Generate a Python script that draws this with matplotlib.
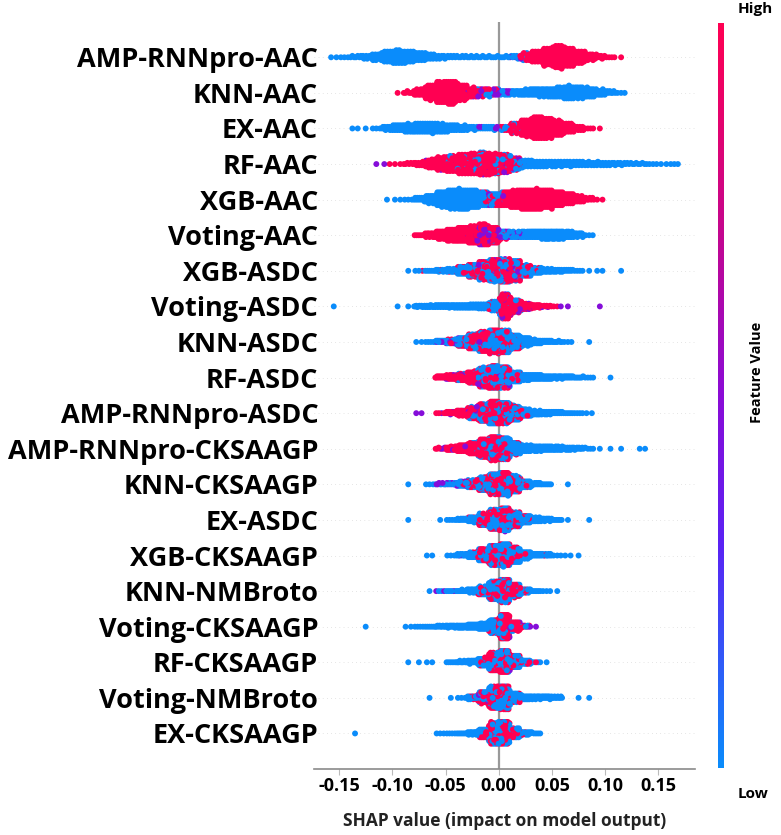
import numpy as np
import matplotlib
matplotlib.use("Agg")
import matplotlib.pyplot as plt
from matplotlib.colors import LinearSegmentedColormap, Normalize
from matplotlib.colorbar import ColorbarBase

plt.rcParams["font.family"] = ["Open Sans", "DejaVu Sans"]
plt.rcParams["axes.unicode_minus"] = False

# features, top to bottom
features = [
    "AMP-RNNpro-AAC", "KNN-AAC", "EX-AAC", "RF-AAC", "XGB-AAC", "Voting-AAC",
    "XGB-ASDC", "Voting-ASDC", "KNN-ASDC", "RF-ASDC", "AMP-RNNpro-ASDC",
    "AMP-RNNpro-CKSAAGP", "KNN-CKSAAGP", "EX-ASDC", "XGB-CKSAAGP",
    "KNN-NMBroto", "Voting-CKSAAGP", "RF-CKSAAGP", "Voting-NMBroto", "EX-CKSAAGP",
]

# SHAP value bins: 33 bins of width 0.01 starting at -0.16
bin_start = -0.16
bin_width = 0.01

# number of samples per bin with low feature value (blue)
low_counts = [
    [2, 3, 6, 10, 18, 30, 36, 30, 22, 15, 10, 7, 6, 6, 5, 5, 5, 6, 4, 0, 0, 0, 0, 0, 0, 0, 0, 0, 0, 0, 0, 0, 0],
    [0, 0, 0, 0, 0, 0, 0, 0, 0, 0, 0, 0, 0, 0, 3, 5, 8, 12, 16, 20, 22, 26, 34, 30, 24, 16, 8, 3, 0, 0, 0, 0, 0],
    [0, 0, 2, 1, 3, 12, 18, 22, 26, 27, 24, 18, 14, 10, 7, 6, 5, 3, 0, 0, 0, 0, 0, 0, 0, 0, 0, 0, 0, 0, 0, 0, 0],
    [0, 0, 0, 0, 0, 0, 0, 0, 0, 0, 0, 4, 6, 8, 10, 12, 12, 14, 18, 18, 17, 16, 15, 14, 12, 11, 10, 8, 6, 5, 3, 2, 3],
    [0, 0, 0, 0, 0, 1, 2, 3, 10, 22, 40, 52, 55, 50, 35, 18, 6, 0, 0, 0, 0, 0, 0, 0, 0, 0, 0, 0, 0, 0, 0, 0, 0],
    [0, 0, 0, 0, 0, 0, 0, 0, 0, 0, 0, 0, 0, 0, 0, 3, 8, 16, 22, 25, 28, 28, 22, 14, 3, 0, 0, 0, 0, 0, 0, 0, 0],
    [0, 0, 0, 0, 0, 0, 0, 1, 2, 5, 10, 16, 28, 36, 44, 48, 48, 44, 32, 24, 18, 14, 10, 4, 1, 2, 0, 1, 0, 0, 0, 0, 0],
    [1, 0, 0, 0, 0, 0, 1, 1, 10, 14, 16, 18, 20, 24, 28, 36, 20, 7, 2, 0, 0, 0, 0, 0, 0, 0, 0, 0, 0, 0, 0, 0, 0],
    [0, 0, 0, 0, 0, 0, 0, 0, 2, 4, 10, 14, 24, 36, 44, 56, 60, 48, 36, 20, 12, 7, 3, 0, 1, 0, 0, 0, 0, 0, 0, 0, 0],
    [0, 0, 0, 0, 0, 0, 0, 0, 0, 0, 0, 0, 3, 12, 28, 48, 52, 36, 28, 24, 18, 14, 12, 7, 4, 0, 1, 0, 0, 0, 0, 0, 0],
    [0, 0, 0, 0, 0, 0, 0, 0, 0, 0, 0, 0, 3, 12, 28, 40, 44, 40, 28, 20, 16, 12, 5, 4, 2, 0, 0, 0, 0, 0, 0, 0, 0],
    [0, 0, 0, 0, 0, 0, 0, 0, 0, 0, 0, 0, 0, 7, 24, 44, 52, 40, 28, 24, 20, 18, 14, 10, 4, 1, 1, 1, 0, 2, 0, 0, 0],
    [0, 0, 0, 0, 0, 0, 0, 1, 0, 3, 4, 6, 16, 24, 36, 44, 48, 36, 20, 12, 6, 0, 1, 0, 0, 0, 0, 0, 0, 0, 0, 0, 0],
    [0, 0, 0, 0, 0, 0, 0, 1, 0, 0, 1, 4, 10, 20, 32, 48, 52, 40, 28, 20, 14, 6, 1, 0, 1, 0, 0, 0, 0, 0, 0, 0, 0],
    [0, 0, 0, 0, 0, 0, 0, 0, 0, 2, 0, 3, 10, 20, 32, 48, 52, 40, 24, 14, 10, 3, 2, 1, 0, 0, 0, 0, 0, 0, 0, 0, 0],
    [0, 0, 0, 0, 0, 0, 0, 0, 0, 1, 2, 5, 10, 20, 32, 52, 52, 36, 14, 6, 3, 1, 0, 0, 0, 0, 0, 0, 0, 0, 0, 0, 0],
    [0, 0, 0, 1, 0, 0, 0, 2, 4, 5, 10, 14, 18, 24, 36, 60, 24, 7, 2, 0, 0, 0, 0, 0, 0, 0, 0, 0, 0, 0, 0, 0, 0],
    [0, 0, 0, 0, 0, 0, 0, 1, 1, 2, 0, 5, 10, 16, 28, 44, 48, 28, 14, 4, 1, 0, 0, 0, 0, 0, 0, 0, 0, 0, 0, 0, 0],
    [0, 0, 0, 0, 0, 0, 0, 0, 0, 1, 0, 1, 3, 12, 28, 52, 56, 32, 20, 16, 14, 10, 0, 1, 1, 0, 0, 0, 0, 0, 0, 0, 0],
    [0, 0, 1, 0, 0, 0, 0, 0, 0, 0, 3, 4, 6, 14, 28, 48, 48, 24, 12, 5, 0, 0, 0, 0, 0, 0, 0, 0, 0, 0, 0, 0, 0],
]

# samples with intermediate feature value (purple)
mid_counts = [
    [0, 0, 0, 0, 0, 0, 0, 0, 0, 0, 0, 0, 0, 0, 0, 0, 0, 2, 3, 0, 0, 0, 0, 0, 0, 0, 0, 0, 0, 0, 0, 0, 0],
    [0, 0, 0, 0, 0, 0, 0, 0, 0, 0, 0, 0, 0, 4, 8, 8, 5, 0, 0, 0, 0, 0, 0, 0, 0, 0, 0, 0, 0, 0, 0, 0, 0],
    [0, 0, 0, 0, 0, 0, 0, 0, 0, 0, 0, 0, 0, 0, 2, 3, 0, 0, 0, 0, 0, 0, 0, 0, 0, 0, 0, 0, 0, 0, 0, 0, 0],
    [0, 0, 0, 0, 1, 1, 0, 0, 0, 2, 3, 0, 3, 0, 4, 0, 4, 4, 0, 0, 0, 0, 0, 0, 0, 0, 0, 0, 0, 0, 0, 0, 0],
    [0, 0, 0, 0, 0, 0, 0, 0, 0, 0, 0, 0, 0, 0, 0, 4, 3, 0, 0, 0, 0, 0, 0, 0, 0, 0, 0, 0, 0, 0, 0, 0, 0],
    [0, 0, 0, 0, 0, 0, 0, 0, 0, 0, 0, 0, 0, 6, 20, 15, 10, 4, 0, 0, 0, 0, 0, 0, 0, 0, 0, 0, 0, 0, 0, 0, 0],
    [0, 0, 0, 0, 0, 0, 0, 0, 0, 0, 0, 0, 0, 0, 5, 7, 10, 7, 0, 0, 0, 0, 0, 0, 0, 0, 0, 0, 0, 0, 0, 0, 0],
    [0, 0, 0, 0, 0, 0, 0, 0, 0, 0, 0, 0, 0, 0, 0, 0, 7, 7, 5, 2, 2, 1, 1, 0, 0, 1, 0, 0, 0, 0, 0, 0, 0],
    [0, 0, 0, 0, 0, 0, 0, 0, 0, 0, 3, 5, 7, 7, 7, 0, 0, 0, 0, 0, 0, 0, 0, 0, 0, 0, 0, 0, 0, 0, 0, 0, 0],
    [0, 0, 0, 0, 0, 0, 0, 0, 0, 0, 0, 3, 3, 0, 5, 0, 5, 0, 0, 0, 0, 0, 0, 0, 0, 0, 0, 0, 0, 0, 0, 0, 0],
    [0, 0, 0, 0, 0, 0, 0, 0, 2, 0, 1, 2, 0, 5, 0, 5, 0, 0, 0, 0, 0, 0, 0, 0, 0, 0, 0, 0, 0, 0, 0, 0, 0],
    [0, 0, 0, 0, 0, 0, 0, 0, 0, 0, 2, 2, 2, 0, 0, 0, 0, 0, 0, 0, 0, 0, 0, 0, 0, 0, 0, 0, 0, 0, 0, 0, 0],
    [0, 0, 0, 0, 0, 0, 0, 0, 0, 0, 5, 6, 5, 0, 0, 0, 0, 0, 0, 0, 0, 0, 0, 0, 0, 0, 0, 0, 0, 0, 0, 0, 0],
    [0, 0, 0, 0, 0, 0, 0, 0, 0, 0, 0, 0, 0, 0, 3, 0, 3, 0, 0, 0, 0, 0, 0, 0, 0, 0, 0, 0, 0, 0, 0, 0, 0],
    [0, 0, 0, 0, 0, 0, 0, 0, 0, 0, 0, 0, 1, 0, 3, 0, 0, 0, 0, 0, 0, 0, 0, 0, 0, 0, 0, 0, 0, 0, 0, 0, 0],
    [0, 0, 0, 0, 0, 0, 0, 0, 0, 0, 2, 1, 0, 0, 0, 0, 0, 0, 0, 0, 0, 0, 0, 0, 0, 0, 0, 0, 0, 0, 0, 0, 0],
    [0, 0, 0, 0, 0, 0, 0, 0, 0, 0, 0, 0, 0, 0, 0, 0, 0, 5, 3, 1, 0, 0, 0, 0, 0, 0, 0, 0, 0, 0, 0, 0, 0],
    [0, 0, 0, 0, 0, 0, 0, 0, 0, 0, 0, 0, 0, 0, 0, 0, 0, 1, 0, 0, 0, 0, 0, 0, 0, 0, 0, 0, 0, 0, 0, 0, 0],
    [0, 0, 0, 0, 0, 0, 0, 0, 0, 0, 0, 0, 0, 0, 3, 0, 0, 0, 0, 0, 0, 0, 0, 0, 0, 0, 0, 0, 0, 0, 0, 0, 0],
    [0, 0, 0, 0, 0, 0, 0, 0, 0, 0, 0, 0, 0, 0, 0, 3, 0, 0, 0, 0, 0, 0, 0, 0, 0, 0, 0, 0, 0, 0, 0, 0, 0],
]

# samples with high feature value (red)
high_counts = [
    [0, 0, 0, 0, 0, 0, 0, 0, 0, 0, 0, 0, 0, 0, 0, 0, 0, 0, 14, 30, 45, 60, 48, 33, 18, 9, 4, 1, 0, 0, 0, 0, 0],
    [0, 0, 0, 0, 0, 0, 1, 6, 18, 38, 55, 60, 40, 20, 10, 5, 0, 0, 0, 0, 0, 0, 0, 0, 0, 0, 0, 0, 0, 0, 0, 0, 0],
    [0, 0, 0, 0, 0, 0, 0, 0, 0, 0, 0, 0, 0, 0, 0, 0, 8, 25, 45, 60, 55, 40, 25, 12, 4, 1, 0, 0, 0, 0, 0, 0, 0],
    [0, 0, 0, 0, 0, 1, 2, 6, 12, 25, 38, 45, 50, 55, 55, 50, 40, 20, 3, 0, 0, 0, 0, 0, 0, 0, 0, 0, 0, 0, 0, 0, 0],
    [0, 0, 0, 0, 0, 0, 0, 0, 0, 0, 0, 0, 0, 0, 4, 12, 30, 48, 55, 55, 50, 40, 30, 18, 8, 2, 0, 0, 0, 0, 0, 0, 0],
    [0, 0, 0, 0, 0, 0, 0, 0, 5, 15, 28, 40, 48, 50, 50, 35, 8, 0, 0, 0, 0, 0, 0, 0, 0, 0, 0, 0, 0, 0, 0, 0, 0],
    [0, 0, 0, 0, 0, 0, 0, 0, 1, 0, 2, 3, 12, 28, 44, 56, 60, 52, 24, 5, 0, 0, 0, 0, 0, 0, 0, 0, 0, 0, 0, 0, 0],
    [0, 0, 0, 0, 0, 0, 0, 0, 0, 0, 0, 0, 0, 0, 0, 20, 120, 60, 30, 16, 7, 2, 0, 0, 0, 0, 0, 0, 0, 0, 0, 0, 0],
    [0, 0, 0, 0, 0, 0, 0, 0, 0, 0, 0, 3, 12, 28, 44, 56, 48, 20, 3, 0, 0, 0, 0, 0, 0, 0, 0, 0, 0, 0, 0, 0, 0],
    [0, 0, 0, 0, 0, 0, 0, 0, 0, 0, 12, 20, 28, 44, 60, 60, 44, 12, 0, 0, 0, 0, 0, 0, 0, 0, 0, 0, 0, 0, 0, 0, 0],
    [0, 0, 0, 0, 0, 0, 0, 0, 0, 0, 3, 12, 24, 40, 56, 64, 56, 28, 7, 0, 0, 0, 0, 0, 0, 0, 0, 0, 0, 0, 0, 0, 0],
    [0, 0, 0, 0, 0, 0, 0, 0, 0, 0, 5, 16, 28, 44, 56, 60, 44, 12, 0, 0, 0, 0, 0, 0, 0, 0, 0, 0, 0, 0, 0, 0, 0],
    [0, 0, 0, 0, 0, 0, 0, 0, 0, 0, 0, 0, 3, 12, 28, 52, 60, 40, 12, 0, 0, 0, 0, 0, 0, 0, 0, 0, 0, 0, 0, 0, 0],
    [0, 0, 0, 0, 0, 0, 0, 0, 0, 0, 0, 0, 0, 5, 20, 44, 52, 28, 7, 0, 0, 0, 0, 0, 0, 0, 0, 0, 0, 0, 0, 0, 0],
    [0, 0, 0, 0, 0, 0, 0, 0, 0, 0, 0, 0, 0, 5, 20, 40, 48, 28, 7, 0, 1, 0, 0, 0, 0, 0, 0, 0, 0, 0, 0, 0, 0],
    [0, 0, 0, 0, 0, 0, 0, 0, 0, 0, 0, 0, 0, 0, 12, 44, 68, 32, 7, 0, 0, 0, 0, 0, 0, 0, 0, 0, 0, 0, 0, 0, 0],
    [0, 0, 0, 0, 0, 0, 0, 0, 0, 0, 0, 0, 0, 0, 0, 20, 120, 40, 7, 0, 0, 0, 0, 0, 0, 0, 0, 0, 0, 0, 0, 0, 0],
    [0, 0, 0, 0, 0, 0, 0, 0, 0, 0, 0, 0, 0, 0, 12, 44, 60, 32, 7, 1, 0, 0, 0, 0, 0, 0, 0, 0, 0, 0, 0, 0, 0],
    [0, 0, 0, 0, 0, 0, 0, 0, 0, 0, 0, 0, 0, 5, 24, 52, 56, 12, 0, 0, 0, 0, 0, 0, 0, 0, 0, 0, 0, 0, 0, 0, 0],
    [0, 0, 0, 0, 0, 0, 0, 0, 0, 0, 0, 0, 0, 0, 12, 48, 56, 20, 3, 0, 0, 0, 0, 0, 0, 0, 0, 0, 0, 0, 0, 0, 0],
]

tick_values = [-0.15, -0.10, -0.05, 0.00, 0.05, 0.10, 0.15]
tick_labels = ["-0.15", "-0.10", "-0.05", "0.00", "0.05", "0.10", "0.15"]

for table in (low_counts, mid_counts, high_counts):
    assert len(table) == len(features)
    assert all(len(r) == 33 for r in table)

cmap = LinearSegmentedColormap.from_list(
    "shap_red_blue",
    [(0.0, "#0a8cfb"), (0.3, "#5a22f4"), (0.5, "#8a0bd6"), (0.72, "#c4068e"), (1.0, "#ff0052")],
)


def mix_key(k, seed):
    # fixed hash, only used to interleave colours and drawing order
    return (np.sin((k + 1) * 12.9898 + seed * 78.233) * 43758.5453) % 1.0


def bin_samples(low, mid, high, r):
    # spread the samples of each bin evenly over it, colours mixed
    xs, cs = [], []
    for i in range(len(low)):
        vals = [0.0] * low[i] + [0.48] * mid[i] + [1.0] * high[i]
        n = len(vals)
        if n == 0:
            continue
        keys = [mix_key(k, r * 40 + i + 1) for k in range(n)]
        vals = [v for _, v in sorted(zip(keys, vals))]
        left = bin_start + i * bin_width
        for j, val in enumerate(vals):
            xs.append(left + (j + 0.5) / n * bin_width)
            cs.append(val)
    return np.array(xs), np.array(cs)


def swarm_offsets(xs, row_height=0.4, nbins=100):
    # same layering as shap's beeswarm
    quant = np.round(nbins * (xs - xs.min()) / (xs.max() - xs.min() + 1e-8))
    inds = np.argsort(quant, kind="stable")
    ys = np.zeros(len(xs))
    layer, last_bin = 0, -1
    for ind in inds:
        if quant[ind] != last_bin:
            layer = 0
        ys[ind] = np.ceil(layer / 2) * ((layer % 2) * 2 - 1)
        layer += 1
        last_bin = quant[ind]
    ys *= 0.9 * (row_height / np.max(ys + 1))
    return ys


fig = plt.figure(figsize=(7.81, 8.35), dpi=100)
ax = fig.add_axes([0.402, 0.079, 0.488, 0.895])

n_feat = len(features)
for r, name in enumerate(features):
    pos = n_feat - 1 - r
    ax.axhline(y=pos, color="#cccccc", lw=0.5, dashes=(1, 5), zorder=-1)
    xs, cs = bin_samples(low_counts[r], mid_counts[r], high_counts[r], r)
    ys = swarm_offsets(xs)
    # draw in a mixed order, like samples in a dataset
    order = np.argsort(mix_key(np.arange(len(xs)), 977 + r))
    ax.scatter(xs[order], pos + ys[order], c=cs[order], cmap=cmap, vmin=0, vmax=1,
               s=18, linewidth=0, alpha=1, zorder=3, rasterized=True)

ax.axvline(x=0, color="#999999", lw=1.6, zorder=-1)

ax.set_xlim(-0.1736, 0.1845)
ax.set_ylim(-1, n_feat)
ax.set_yticks(range(n_feat))
ax.set_yticklabels(features[::-1], fontsize=19.5, fontweight="bold")
ax.tick_params(axis="y", length=0, pad=-3)
ax.set_xticks(tick_values)
ax.set_xticklabels(tick_labels, fontsize=13, fontweight="bold")
ax.tick_params(axis="x", length=4, color="#bbbbbb", pad=2)
for side in ("top", "right", "left"):
    ax.spines[side].set_visible(False)
ax.spines["bottom"].set_color("#8a8a8a")
ax.spines["bottom"].set_linewidth(1.2)
ax.set_xlabel("SHAP value (impact on model output)", fontsize=12.5,
              fontweight="bold", color="#222222", labelpad=12)

# colour bar
cax = fig.add_axes([0.919, 0.080, 0.0077, 0.893])
cb = ColorbarBase(cax, cmap=cmap, norm=Normalize(0, 1), orientation="vertical")
cb.set_ticks([])
cb.outline.set_visible(False)
fig.text(0.967, 0.989, "High", ha="center", va="center", fontsize=11, fontweight="bold")
fig.text(0.964, 0.049, "Low", ha="center", va="center", fontsize=11, fontweight="bold")
fig.text(0.969, 0.554, "Feature Value", ha="center", va="center", rotation=90,
         fontsize=10.5, fontweight="bold")

fig.savefig("out.png", dpi=100)
